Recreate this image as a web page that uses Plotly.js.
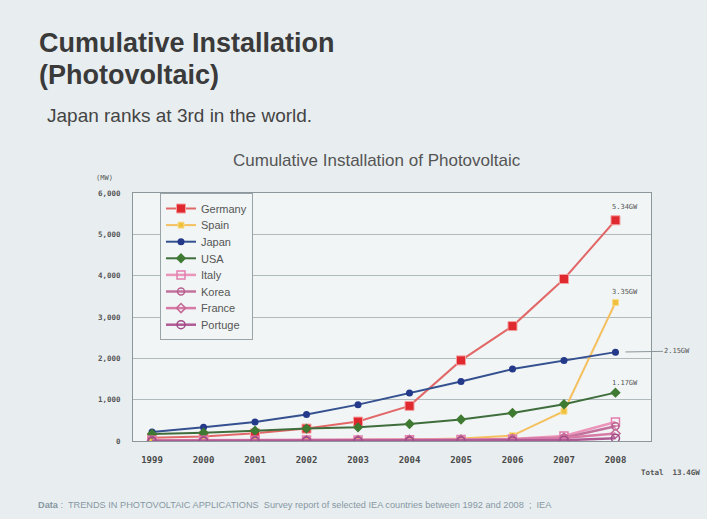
<!DOCTYPE html>
<html>
<head>
<meta charset="utf-8">
<script src="https://cdn.plot.ly/plotly-3.0.1.min.js"></script>
<style>
  html, body { margin: 0; padding: 0; background: #e8eef0; }
  #chart { width: 707px; height: 519px; }
</style>
</head>
<body>
<div id="chart"></div>
<script>
// Cumulative installed PV capacity (MW), 1999-2008
const years = [1999, 2000, 2001, 2002, 2003, 2004, 2005, 2006, 2007, 2008];
const germany  = [80, 110, 185, 300, 470, 850, 1950, 2780, 3920, 5340];
const spain    = [10, 12, 16, 20, 27, 37, 58, 130, 720, 3350];
const japan    = [220, 330, 460, 640, 880, 1160, 1440, 1740, 1950, 2150];
const usa      = [170, 200, 250, 300, 330, 410, 520, 680, 890, 1170];
const italy    = [18, 19, 20, 22, 26, 31, 38, 50, 120, 458];
const korea    = [3, 4, 5, 9, 10, 14, 15, 36, 81, 358];
const france   = [9, 11, 14, 17, 21, 26, 33, 44, 75, 180];
const portugal = [1, 1, 2, 2, 2, 3, 3, 3, 18, 68];
const yTicks = [0, 1000, 2000, 3000, 4000, 5000, 6000];
const totalText = 'Total  13.4GW';

// plot frame in pixels, used to place free text in paper coordinates
const L = 133, R = 651, T = 193, B = 441;
const px = v => (v - L) / (R - L);
const py = v => (B - v) / (B - T);

function series(name, y, line, marker) {
  return {
    type: 'scatter', mode: 'lines+markers', name: name, x: years, y: y,
    line: Object.assign({width: 2}, line),
    marker: marker
  };
}

const traces = [
  series('Germany', germany, {color: '#e26868', width: 2}, {symbol: 'square', size: 9, color: '#e0282f', line: {color: '#f3a0a0', width: 1}}),
  series('Spain', spain, {color: '#f4c060', width: 2}, {symbol: 'square', size: 6, color: '#f0c23c', line: {color: '#f8dc90', width: 1}}),
  series('Japan', japan, {color: '#34508f', width: 2}, {symbol: 'circle', size: 7, color: '#24398a'}),
  series('USA', usa, {color: '#3f6e3c', width: 2}, {symbol: 'diamond', size: 8, color: '#3f7a32'}),
  series('Italy', italy, {color: '#ec95ba', width: 2.5}, {symbol: 'square-open', size: 8, color: '#e27fae', line: {width: 1.5}}),
  series('Korea', korea, {color: '#c2709c', width: 2.5}, {symbol: 'circle-open', size: 7, color: '#b8608e', line: {width: 1.5}}),
  series('France', france, {color: '#d77ba6', width: 2.5}, {symbol: 'diamond-open', size: 7, color: '#c56a96', line: {width: 1.5}}),
  series('Portuge', portugal, {color: '#b05a95', width: 2.5}, {symbol: 'circle-open', size: 8, color: '#a04c88', line: {width: 1.5}})
];

const valFont = {family: 'DejaVu Sans Mono', size: 7, color: '#555'};
function gwLabel(y, ax, ay, arrow) {
  return {
    xref: 'x', yref: 'y', x: years[years.length - 1], y: y[y.length - 1],
    text: (y[y.length - 1] / 1000).toFixed(2) + 'GW',
    showarrow: true, arrowhead: 0, arrowwidth: 1,
    arrowcolor: arrow ? '#8c969a' : 'rgba(0,0,0,0)',
    standoff: arrow ? 10 : 0,
    ax: ax, ay: ay, font: valFont
  };
}

const annotations = [
  {xref: 'paper', yref: 'paper', x: px(37), y: py(43), xanchor: 'left', yanchor: 'middle', showarrow: false,
   text: '<b>Cumulative Installation</b>', font: {family: 'Liberation Sans', size: 27, color: '#3a3a3a'}},
  {xref: 'paper', yref: 'paper', x: px(37), y: py(75), xanchor: 'left', yanchor: 'middle', showarrow: false,
   text: '<b>(Photovoltaic)</b>', font: {family: 'Liberation Sans', size: 27, color: '#3a3a3a'}},
  {xref: 'paper', yref: 'paper', x: px(45), y: py(116), xanchor: 'left', yanchor: 'middle', showarrow: false,
   text: 'Japan ranks at 3rd in the world.', font: {family: 'Liberation Sans', size: 19, color: '#444'}},
  {xref: 'paper', yref: 'paper', x: px(377), y: py(161), xanchor: 'center', yanchor: 'middle', showarrow: false,
   text: 'Cumulative Installation of Photovoltaic', font: {family: 'Liberation Sans', size: 17, color: '#555'}},
  {xref: 'paper', yref: 'paper', x: px(94), y: py(178), xanchor: 'left', yanchor: 'middle', showarrow: false,
   text: '(MW)', font: {family: 'DejaVu Sans Mono', size: 7, color: '#555'}},
  {xref: 'paper', yref: 'paper', x: px(702), y: py(472), xanchor: 'right', yanchor: 'middle', showarrow: false,
   text: '<b>' + totalText + '</b>', font: {family: 'DejaVu Sans Mono', size: 7.5, color: '#555'}},
  {xref: 'paper', yref: 'paper', x: px(36), y: py(505), xanchor: 'left', yanchor: 'middle', showarrow: false,
   text: '<b>Data</b> :  TRENDS IN PHOTOVOLTAIC APPLICATIONS  Survey report of selected IEA countries between 1992 and 2008  ;  IEA',
   font: {family: 'Liberation Sans', size: 9.2, color: '#8797a3'}},
  gwLabel(germany, 10, -13, false),
  gwLabel(spain, 10, -11, false),
  gwLabel(japan, 62, -1, true),
  gwLabel(usa, 10, -10, false)
];

const layout = {
  width: 707, height: 519,
  margin: {l: L, r: 707 - R, t: T, b: 519 - B, pad: 0},
  paper_bgcolor: '#e8eef0',
  plot_bgcolor: '#f1f5f6',
  showlegend: true,
  legend: {
    x: px(160), y: 1, xanchor: 'left', yanchor: 'top',
    bgcolor: '#f1f5f6', bordercolor: '#9aa4a8', borderwidth: 1,
    font: {family: 'Liberation Sans', size: 11, color: '#555'},
    itemwidth: 30, tracegroupgap: 0
  },
  xaxis: {
    range: [1998.63, 2008.69], tickvals: years, ticktext: years.map(String),
    showgrid: false, zeroline: false, showline: true, mirror: true, linecolor: '#8c979c',
    ticks: '', ticklabelstandoff: 10,
    tickfont: {family: 'DejaVu Sans Mono', size: 9, color: '#4a4a4a', weight: 'bold'}
  },
  yaxis: {
    range: [0, 6000], tickvals: yTicks, tickformat: ',d',
    gridcolor: '#b0babd', gridwidth: 1, zeroline: false,
    showline: true, mirror: true, linecolor: '#8c979c',
    ticks: '', ticklabelstandoff: 10,
    tickfont: {family: 'DejaVu Sans Mono', size: 7.5, color: '#555', weight: 'bold'}
  },
  annotations: annotations
};

// tighten the legend rows after drawing
const legendStep = 16.6;
Plotly.newPlot('chart', traces, layout, {displayModeBar: false, staticPlot: true}).then(gd => {
  const items = Array.from(gd.querySelectorAll('.legend .traces'));
  if (items.length < 2) return;
  const pos = items.map(g => {
    const m = /translate\(\s*([-\d.]+)[ ,]+([-\d.]+)\s*\)/.exec(g.getAttribute('transform') || '');
    return m ? [parseFloat(m[1]), parseFloat(m[2])] : [0, 0];
  });
  const oldStep = pos[1][1] - pos[0][1];
  items.forEach((g, i) => g.setAttribute('transform', `translate(${pos[i][0]},${pos[0][1] + i * legendStep})`));
  const bg = gd.querySelector('.legend .bg');
  if (bg) {
    const h = parseFloat(bg.getAttribute('height'));
    bg.setAttribute('height', h - (oldStep - legendStep) * (items.length - 1));
  }
});
</script>
</body>
</html>
